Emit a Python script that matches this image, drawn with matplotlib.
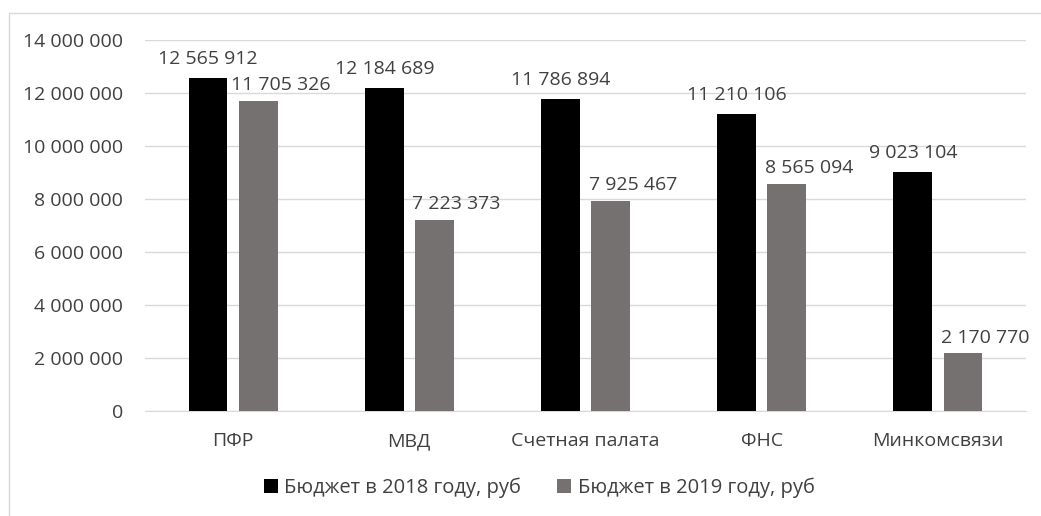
import matplotlib.pyplot as plt
import numpy as np
from matplotlib.patches import Rectangle
from matplotlib.ticker import FuncFormatter

categories = ["ПФР", "МВД", "Счетная палата", "ФНС", "Минкомсвязи"]
budget_2018 = [12565912, 12184689, 11786894, 11210106, 9023104]
budget_2019 = [11705326, 7223373, 7925467, 8565094, 2170770]
series_names = ["Бюджет в 2018 году, руб", "Бюджет в 2019 году, руб"]
y_ticks = [0, 2000000, 4000000, 6000000, 8000000, 10000000, 12000000, 14000000]

COLOR_2018 = "#000000"
COLOR_2019 = "#767171"
TEXT = "#404040"
GRID = "#d9d9d9"

plt.rcParams["font.family"] = ["Open Sans", "DejaVu Sans"]


def spaced(v, _pos=None):
    return f"{int(v):,}".replace(",", " ")


fig = plt.figure(figsize=(10.41, 5.16), dpi=100)
ax = fig.add_axes([145 / 1041, 1 - 411 / 516, (1026 - 145) / 1041, (411 - 40) / 516])

# chart border, like the spreadsheet chart frame
fig.patches.append(Rectangle((9 / 1041, -0.05), 1.1, 1 - 13 / 516 + 0.05,
                             transform=fig.transFigure, fill=False,
                             edgecolor=GRID, linewidth=1.0))

x = np.arange(len(categories))
w = 0.22
off = 0.142
b1 = ax.bar(x - off, budget_2018, w, color=COLOR_2018, label=series_names[0], zorder=3)
b2 = ax.bar(x + off, budget_2019, w, color=COLOR_2019, label=series_names[1], zorder=3)

for rect, v in zip(b1, budget_2018):
    ax.annotate(spaced(v), (rect.get_x() + rect.get_width() / 2, v),
                xytext=(0, 7), textcoords="offset points",
                ha="center", va="bottom", fontsize=14, color=TEXT)
for rect, v in zip(b2, budget_2019):
    ax.annotate(spaced(v), (rect.get_x() + rect.get_width() / 2, v),
                xytext=(16, 5), textcoords="offset points",
                ha="center", va="bottom", fontsize=14, color=TEXT)

ax.set_xlim(-0.5, len(categories) - 0.5)
ax.set_ylim(0, 14000000)
ax.set_yticks(y_ticks)
ax.yaxis.set_major_formatter(FuncFormatter(spaced))
ax.set_xticks(x)
ax.set_xticklabels(categories)
ax.tick_params(axis="both", length=0, labelsize=14, colors=TEXT)
ax.tick_params(axis="y", pad=16)
ax.tick_params(axis="x", pad=15)
ax.grid(axis="y", color=GRID, linewidth=1.0, zorder=0)
for side in ["top", "right", "left"]:
    ax.spines[side].set_visible(False)
ax.spines["bottom"].set_color(GRID)

fig.legend(loc="center", bbox_to_anchor=(0.518, 1 - 488 / 516), ncol=2,
           frameon=False, fontsize=14.5, handlelength=0.7, handleheight=0.7,
           handletextpad=0.3, columnspacing=1.8, labelcolor=TEXT)

fig.savefig("out.png", dpi=100)
